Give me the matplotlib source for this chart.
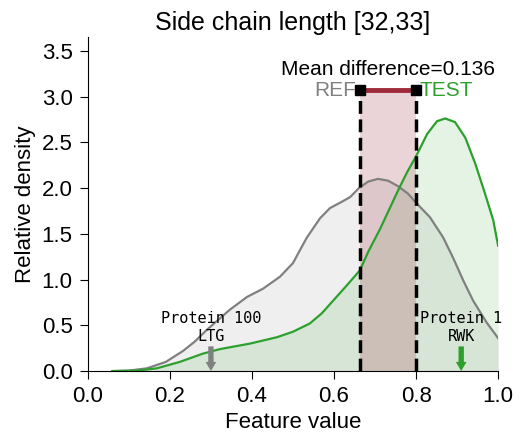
import numpy as np
import matplotlib.pyplot as plt

plt.rcParams['font.family'] = ['Liberation Sans', 'DejaVu Sans']

# density curves
ref_x = [0.06, 0.10, 0.144, 0.19, 0.232, 0.26, 0.29, 0.305, 0.346, 0.388, 0.427, 0.468,
         0.50, 0.512, 0.534, 0.566, 0.590, 0.619, 0.639, 0.661, 0.683, 0.707, 0.732,
         0.756, 0.780, 0.802, 0.834, 0.866, 0.890, 0.915, 0.939, 0.972, 1.0]
ref_y = [0.0, 0.005, 0.03, 0.10, 0.22, 0.32, 0.45, 0.51, 0.67, 0.81, 0.90, 1.03,
         1.18, 1.28, 1.46, 1.67, 1.78, 1.85, 1.90, 2.00, 2.07, 2.10, 2.08,
         2.02, 1.94, 1.83, 1.68, 1.46, 1.24, 0.99, 0.77, 0.53, 0.36]
test_x = [0.06, 0.12, 0.168, 0.224, 0.28, 0.322, 0.395, 0.461, 0.50, 0.541, 0.57,
          0.598, 0.63, 0.663, 0.683, 0.712, 0.737, 0.759, 0.779, 0.798, 0.827, 0.851,
          0.871, 0.895, 0.920, 0.944, 0.968, 0.988, 1.0]
test_y = [0.0, 0.005, 0.03, 0.10, 0.19, 0.24, 0.30, 0.37, 0.43, 0.52, 0.63,
          0.77, 0.93, 1.10, 1.30, 1.55, 1.79, 2.00, 2.18, 2.33, 2.59, 2.73,
          2.76, 2.72, 2.55, 2.27, 1.94, 1.65, 1.37]

ref_mean = 0.663
test_mean = 0.799
bar_y = 3.07

gray = '#808080'
green = '#2ca02c'
red = '#9e2a3b'

fig = plt.figure(figsize=(5.26, 4.46), dpi=100)
ax = fig.add_axes([0.167, 0.168, 0.78, 0.749])

ax.fill_between(ref_x, ref_y, color=gray, alpha=0.12, lw=0)
ax.plot(ref_x, ref_y, color=gray, lw=1.6)
ax.fill_between(test_x, test_y, color=green, alpha=0.12, lw=0)
ax.plot(test_x, test_y, color=green, lw=1.6)

ax.fill_between([ref_mean, test_mean], [bar_y, bar_y], color=red, alpha=0.2, lw=0)
ax.plot([ref_mean, ref_mean], [0, bar_y], color='black', ls='--', lw=2.5)
ax.plot([test_mean, test_mean], [0, bar_y], color='black', ls='--', lw=2.5)
ax.plot([ref_mean, test_mean], [bar_y, bar_y], color=red, lw=3.5)
ax.plot([ref_mean, test_mean], [bar_y, bar_y], 's', color='black', ms=6.5)

ax.text((ref_mean + test_mean) / 2, 3.19, 'Mean difference=%.3f' % (test_mean - ref_mean),
        ha='center', va='bottom', fontsize=15)
ax.text(ref_mean - 0.01, bar_y, 'REF', ha='right', va='center', fontsize=15, color=gray)
ax.text(test_mean + 0.01, bar_y, 'TEST', ha='left', va='center', fontsize=15, color=green)

arrow = 'simple,head_width=0.7,head_length=0.6,tail_width=0.35'
ax.annotate('Protein 100\nLTG', xy=(0.3, 0.0), xytext=(0.3, 0.3),
            ha='center', va='bottom', fontsize=11, family='DejaVu Sans Mono',
            arrowprops=dict(arrowstyle=arrow, color=gray, lw=0, shrinkA=0, shrinkB=0))
ax.annotate('Protein 1\nRWK', xy=(0.91, 0.0), xytext=(0.91, 0.3),
            ha='center', va='bottom', fontsize=11, family='DejaVu Sans Mono',
            arrowprops=dict(arrowstyle=arrow, color=green, lw=0, shrinkA=0, shrinkB=0))

ax.set_xlim(0, 1)
ax.set_ylim(0, 3.65)
ax.set_xticks(np.arange(0, 1.01, 0.2))
ax.set_yticks(np.arange(0, 3.51, 0.5))
ax.tick_params(labelsize=16, length=6, pad=5)
ax.set_xlabel('Feature value', fontsize=16, labelpad=3)
ax.set_ylabel('Relative density', fontsize=16, labelpad=4)
ax.set_title('Side chain length [32,33]', fontsize=18, pad=5)
ax.spines['top'].set_visible(False)
ax.spines['right'].set_visible(False)

fig.savefig('out.png', dpi=100)
